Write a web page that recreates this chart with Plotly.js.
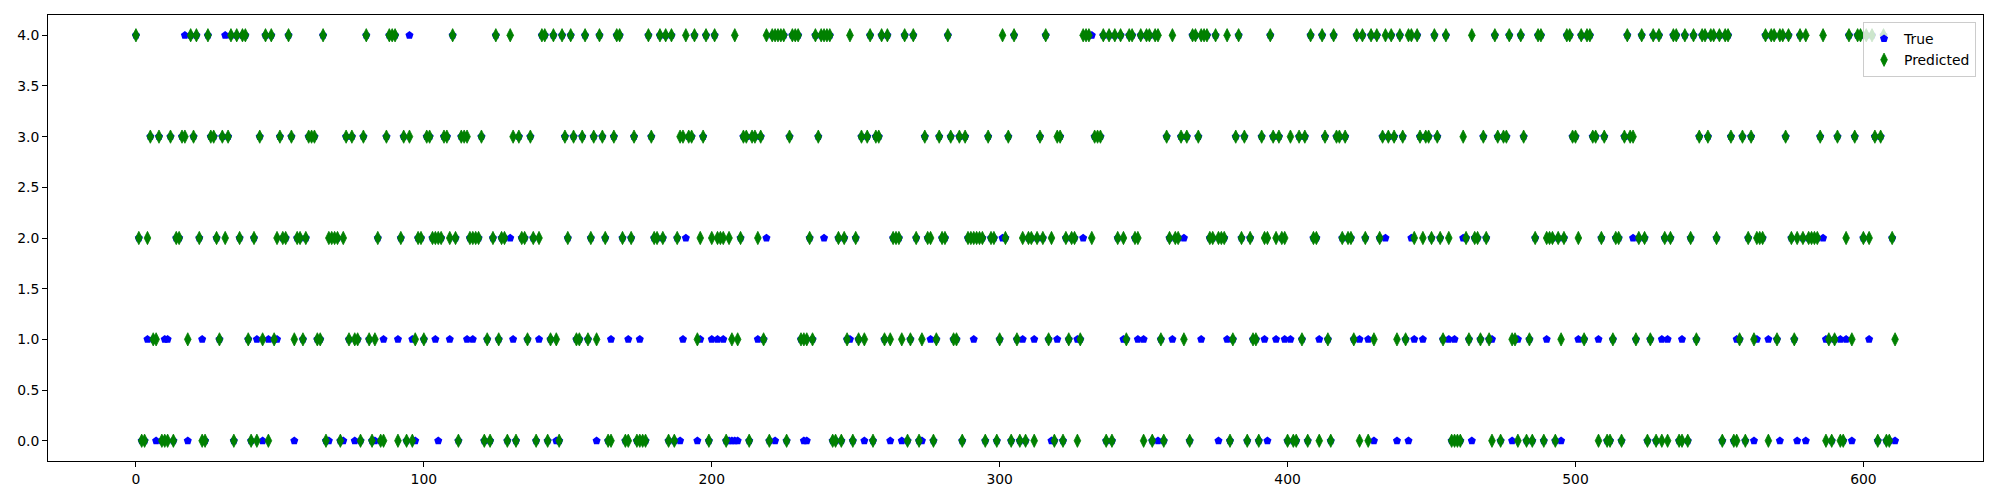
<!DOCTYPE html>
<html>
<head>
<meta charset="utf-8">
<script src="https://cdn.plot.ly/plotly-3.0.1.min.js"></script>
<style>html,body{margin:0;padding:0;background:#fff;}#chart{width:2000px;height:500px;}</style>
</head>
<body>
<div id="chart"></div>
<script>
// Series labels
const seriesNames = ["True", "Predicted"];
// x tick labels
const xTicks = [0, 100, 200, 300, 400, 500, 600];
// y tick labels
const yTicks = [0.0, 0.5, 1.0, 1.5, 2.0, 2.5, 3.0, 3.5, 4.0];

// Predicted class per sample index (0..611)
const predicted = [
4,2,0,0,2,3,1,1,3,0, 0,0,3,0,2,2,3,3,1,4, 3,4,2,0,0,4,3,3,2,1, 3,2,3,4,0,4,2,4,4,1,
0,2,0,3,1,4,0,4,1,2, 3,2,2,4,3,1,2,2,1,2, 3,3,3,1,1,4,0,2,2,2, 2,0,2,3,1,3,1,1,0,3,
4,1,0,1,2,0,0,3,4,4, 4,0,2,3,0,3,0,1,2,2, 1,3,3,2,2,2,2,3,3,2, 4,2,0,3,3,3,2,2,2,2,
3,0,1,0,2,4,1,2,2,0, 4,3,0,3,2,2,1,3,2,0, 2,4,4,0,1,4,1,0,4,3, 2,4,3,1,1,3,4,1,2,3,
1,4,3,2,0,0,3,4,4,2, 0,0,2,3,0,0,0,0,4,3, 2,2,4,2,4,0,4,0,2,3, 3,4,3,3,4,1,2,3,4,0,
2,4,2,2,2,0,2,1,4,1, 2,3,3,0,3,3,2,3,1,4, 0,4,4,4,4,4,0,3,4,4, 4,1,1,1,2,1,4,3,4,4,
4,4,0,0,2,0,2,1,4,0, 2,1,3,1,3,4,0,3,3,4, 1,4,1,2,2,2,1,4,0,1, 4,2,0,1,3,2,2,0,1,3,
2,2,4,3,1,1,3,0,3,2, 2,2,2,2,2,0,3,2,2,0, 1,4,2,3,0,4,1,0,2,0, 2,2,0,2,3,2,4,1,2,0,
3,3,0,2,1,2,2,0,1,4, 4,4,2,3,3,3,4,0,4,0, 4,2,4,2,1,4,4,2,2,4, 0,4,4,0,4,4,1,0,3,2,
4,2,2,3,1,3,0,4,4,3, 4,4,4,2,2,4,2,2,2,4, 0,1,3,4,2,3,0,2,1,1, 0,3,2,2,4,3,2,3,2,2,
0,3,0,0,3,1,3,0,4,2, 2,0,4,3,1,0,4,3,3,2, 3,2,2,1,4,0,4,2,0,4, 1,4,2,3,4,3,4,3,1,4,
3,1,4,4,2,4,3,2,3,3, 2,4,3,2,1,4,2,0,0,0, 0,3,2,1,4,2,2,1,3,2, 1,0,4,3,0,3,3,4,1,1,
0,4,3,0,1,0,2,4,4,0, 2,2,2,0,2,1,2,4,4,3, 3,2,4,1,4,4,3,3,0,2, 3,0,0,1,2,2,0,3,4,3,
3,1,2,4,2,0,1,4,0,4, 0,2,0,2,4,4,0,0,4,0, 2,4,1,3,4,4,3,4,4,2, 4,0,4,4,3,0,0,1,3,0,
2,3,1,2,2,2,4,0,4,4, 1,4,4,3,4,2,1,2,4,2, 4,2,2,2,2,3,4,0,1,0, 1,3,0,0,2,4,1,3,4,4,
2,4,2,4,3,0,3,4,0,0, 2,1
];

// True class per sample index (0..611)
const trueVals = [
4,2,0,0,1,3,1,0,3,0, 1,1,3,0,2,2,3,4,0,4, 3,4,2,1,0,4,3,3,2,1, 3,4,3,4,0,4,2,4,4,1,
0,2,1,3,0,4,1,4,1,1, 3,2,2,4,3,0,2,2,1,2, 3,3,3,1,1,4,0,0,2,2, 2,0,0,3,1,3,0,1,0,3,
4,1,0,0,2,0,1,3,4,4, 4,1,2,3,0,4,1,0,2,2, 1,3,3,2,1,0,2,3,3,1, 4,2,0,3,3,1,2,1,2,2,
3,0,1,0,2,4,1,2,2,0, 2,1,0,3,2,2,1,3,2,0, 1,4,4,0,1,4,0,0,4,3, 2,4,3,1,1,3,4,1,2,3,
0,4,3,2,0,1,3,4,4,2, 0,1,2,3,0,1,0,0,4,3, 2,2,4,2,4,0,4,0,2,0, 1,2,3,3,4,0,1,3,4,0,
1,4,1,2,1,0,0,0,0,0, 2,3,3,0,3,3,1,3,1,2, 0,4,0,4,4,4,0,3,4,4, 4,1,0,0,2,1,4,3,4,2,
4,4,0,0,2,0,2,1,1,0, 2,1,3,0,3,4,0,3,3,4, 1,4,0,2,2,2,0,4,0,1, 4,2,0,0,3,2,1,0,1,3,
2,2,4,3,1,1,3,0,3,2, 2,1,2,2,2,0,3,2,2,0, 1,2,2,3,0,4,1,0,1,0, 2,2,1,2,3,2,4,1,0,0,
1,3,0,2,1,2,2,1,1,2, 4,4,4,3,3,3,4,0,4,0, 4,2,4,1,1,4,4,2,1,4, 1,4,4,0,4,0,1,0,3,2,
1,2,2,3,2,3,0,4,4,3, 1,4,4,2,2,4,0,2,2,1, 0,1,3,4,2,3,0,2,1,1, 0,3,1,0,4,3,1,3,2,1,
0,1,0,0,3,1,3,0,4,2, 2,1,4,3,1,0,4,3,3,2, 3,2,2,1,4,1,4,2,1,4, 0,4,2,3,2,3,4,3,0,4,
3,1,0,2,1,4,3,1,3,3, 2,4,3,2,1,4,1,0,1,0, 0,2,2,1,0,2,2,1,3,2, 1,1,4,3,0,3,3,4,0,1,
1,4,3,0,1,0,2,4,4,0, 1,2,2,0,2,0,2,4,4,3, 3,1,4,1,4,4,3,3,1,2, 3,0,0,1,2,2,0,3,4,3,
2,1,2,4,2,0,1,4,0,4, 1,2,1,2,4,4,0,1,4,0, 2,4,1,3,4,4,3,4,4,2, 4,0,4,4,3,0,1,1,3,0,
2,3,0,1,2,2,4,1,4,4, 1,0,4,3,4,2,1,0,4,2, 0,2,2,2,2,3,2,1,1,0, 1,3,1,0,1,4,0,3,4,4,
2,4,1,4,3,0,3,4,0,0, 2,0
];

const font = {family: "DejaVu Sans, sans-serif", size: 13.9, color: "#000"};

const traces = [
  {
    type: "scatter", mode: "markers", name: seriesNames[0],
    y: trueVals, x0: 0, dx: 1,
    marker: {symbol: "pentagon", size: 8.5, color: "#0000ff", line: {width: 0}}
  },
  {
    type: "scatter", mode: "markers", name: seriesNames[1],
    y: predicted, x0: 0, dx: 1,
    marker: {symbol: "diamond-tall", size: 9.5, color: "#008000", line: {width: 0.8, color: "#008000"}}
  }
];

const axisCommon = {
  showgrid: false, zeroline: false, showline: true, mirror: true,
  linecolor: "#000", linewidth: 1, ticks: "outside", ticklen: 5,
  tickwidth: 1, tickcolor: "#000", tickfont: font
};

const layout = {
  width: 2000, height: 500,
  margin: {l: 48, r: 17, t: 15, b: 39, pad: 0},
  paper_bgcolor: "#fff", plot_bgcolor: "#fff",
  font: font,
  xaxis: Object.assign({}, axisCommon, {range: [-30.55, 641.55], tickmode: "array", tickvals: xTicks, ticktext: xTicks.map(String)}),
  yaxis: Object.assign({}, axisCommon, {range: [-0.2, 4.2], tickmode: "array", tickvals: yTicks, ticktext: yTicks.map(v => v.toFixed(1))}),
  showlegend: true,
  legend: {
    x: 0.9964, xanchor: "right", y: 0.984, yanchor: "top",
    bgcolor: "rgba(255,255,255,0.8)", bordercolor: "#cccccc", borderwidth: 1,
    font: font, tracegroupgap: 0
  }
};

Plotly.newPlot("chart", traces, layout, {displayModeBar: false, staticPlot: true});
</script>
</body>
</html>
